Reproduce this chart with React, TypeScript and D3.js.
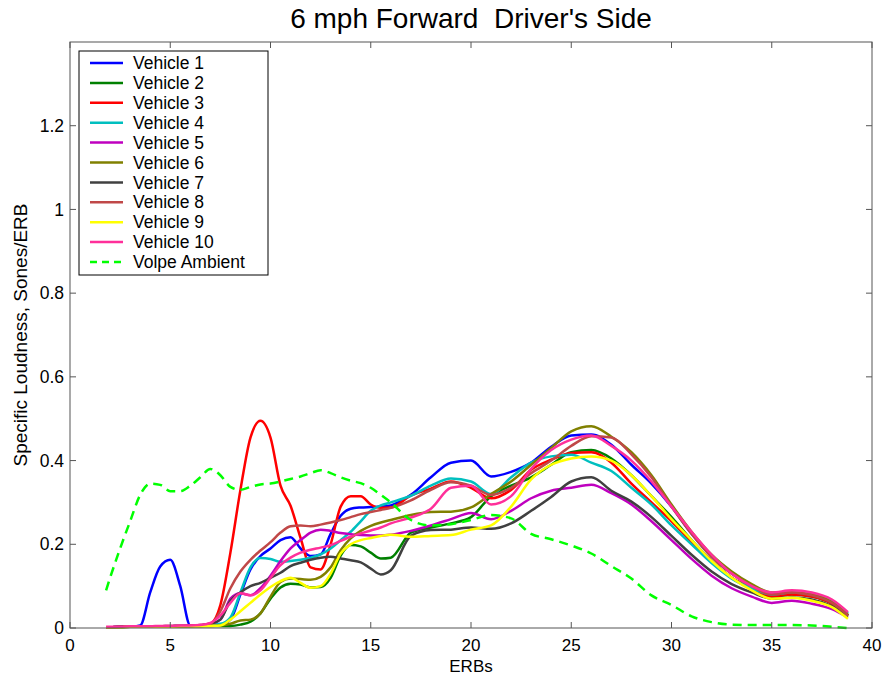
import React from 'react';
import { scaleLinear, line, curveMonotoneX } from 'd3';

const erbs = [1.8, 2, 2.5, 3, 3.5, 4, 4.5, 5, 5.5, 6, 6.5, 7, 7.5, 8, 8.5, 9, 9.5, 10, 10.5, 11, 11.5, 12, 12.5, 13, 13.5, 14, 14.5, 15, 15.5, 16,
  17, 18, 19, 20, 21, 22, 23, 24, 25, 26, 27, 28, 29, 30, 31, 32, 33, 34, 35, 36, 37, 38, 38.8];

const vehicle1 = [0.002, 0.002, 0.003, 0.003, 0.006, 0.085, 0.147, 0.163, 0.1, 0.006, 0.005, 0.007, 0.008, 0.02, 0.08, 0.14, 0.172, 0.19, 0.21, 0.217, 0.19, 0.172, 0.176, 0.225, 0.268, 0.285, 0.288, 0.289, 0.29, 0.293,
  0.318, 0.36, 0.395, 0.4, 0.362, 0.373, 0.395, 0.433, 0.46, 0.462, 0.438, 0.39, 0.345, 0.29, 0.225, 0.17, 0.13, 0.1, 0.08, 0.082, 0.078, 0.06, 0.03];
const vehicle2 = [0.002, 0.002, 0.002, 0.003, 0.003, 0.003, 0.003, 0.003, 0.003, 0.004, 0.004, 0.005, 0.005, 0.005, 0.008, 0.015, 0.035, 0.07, 0.097, 0.106, 0.104, 0.097, 0.098, 0.12, 0.173, 0.198, 0.195, 0.18, 0.166, 0.168,
  0.228, 0.24, 0.25, 0.265, 0.315, 0.34, 0.36, 0.39, 0.42, 0.425, 0.405, 0.365, 0.315, 0.265, 0.21, 0.16, 0.12, 0.095, 0.075, 0.08, 0.075, 0.058, 0.03];
const vehicle3 = [0.002, 0.002, 0.003, 0.003, 0.003, 0.004, 0.004, 0.004, 0.005, 0.005, 0.006, 0.01, 0.055, 0.18, 0.33, 0.455, 0.495, 0.455, 0.34, 0.292, 0.215, 0.145, 0.14, 0.2, 0.29, 0.315, 0.315, 0.295, 0.287, 0.288,
  0.316, 0.333, 0.35, 0.335, 0.31, 0.33, 0.378, 0.402, 0.418, 0.42, 0.395, 0.345, 0.3, 0.255, 0.205, 0.16, 0.12, 0.095, 0.075, 0.08, 0.075, 0.058, 0.03];
const vehicle4 = [0.002, 0.002, 0.003, 0.003, 0.003, 0.003, 0.004, 0.004, 0.005, 0.005, 0.006, 0.008, 0.01, 0.025, 0.085, 0.145, 0.167, 0.165, 0.158, 0.16, 0.163, 0.168, 0.176, 0.19, 0.21, 0.23, 0.255, 0.28, 0.293, 0.3,
  0.316, 0.34, 0.357, 0.35, 0.32, 0.36, 0.395, 0.41, 0.414, 0.395, 0.375, 0.335, 0.295, 0.245, 0.2, 0.155, 0.118, 0.095, 0.08, 0.085, 0.08, 0.065, 0.035];
const vehicle5 = [0.002, 0.002, 0.003, 0.003, 0.003, 0.004, 0.004, 0.005, 0.005, 0.006, 0.007, 0.01, 0.02, 0.07, 0.083, 0.078, 0.095, 0.125, 0.16, 0.19, 0.21, 0.228, 0.235, 0.232, 0.227, 0.224, 0.222, 0.221, 0.221, 0.223,
  0.232, 0.245, 0.26, 0.275, 0.26, 0.28, 0.31, 0.328, 0.335, 0.342, 0.322, 0.295, 0.255, 0.21, 0.165, 0.125, 0.095, 0.075, 0.06, 0.065, 0.058, 0.045, 0.025];
const vehicle6 = [0.002, 0.002, 0.002, 0.003, 0.003, 0.003, 0.003, 0.004, 0.004, 0.004, 0.005, 0.005, 0.006, 0.01, 0.018, 0.02, 0.035, 0.075, 0.11, 0.118, 0.117, 0.115, 0.122, 0.145, 0.186, 0.214, 0.232, 0.244, 0.252, 0.258,
  0.27, 0.277, 0.278, 0.288, 0.32, 0.35, 0.39, 0.43, 0.47, 0.482, 0.457, 0.42, 0.365, 0.295, 0.23, 0.175, 0.135, 0.105, 0.085, 0.085, 0.08, 0.062, 0.032];
const vehicle7 = [0.002, 0.002, 0.003, 0.003, 0.003, 0.004, 0.004, 0.004, 0.005, 0.005, 0.006, 0.01, 0.02, 0.065, 0.085, 0.1, 0.108, 0.12, 0.132, 0.148, 0.156, 0.163, 0.168, 0.17, 0.166, 0.162, 0.157, 0.142, 0.128, 0.138,
  0.22, 0.234, 0.235, 0.24, 0.237, 0.25, 0.28, 0.313, 0.35, 0.36, 0.328, 0.302, 0.265, 0.22, 0.175, 0.135, 0.105, 0.085, 0.07, 0.073, 0.068, 0.052, 0.028];
const vehicle8 = [0.002, 0.002, 0.003, 0.003, 0.003, 0.004, 0.004, 0.005, 0.005, 0.006, 0.007, 0.01, 0.04, 0.095, 0.135, 0.163, 0.185, 0.205, 0.228, 0.243, 0.245, 0.243, 0.247, 0.252, 0.258, 0.265, 0.272, 0.277, 0.282, 0.287,
  0.305, 0.33, 0.348, 0.34, 0.318, 0.335, 0.37, 0.4, 0.435, 0.458, 0.455, 0.415, 0.36, 0.29, 0.225, 0.17, 0.13, 0.1, 0.08, 0.085, 0.078, 0.06, 0.03];
const vehicle9 = [0.002, 0.002, 0.002, 0.003, 0.003, 0.003, 0.003, 0.003, 0.004, 0.004, 0.004, 0.005, 0.006, 0.02, 0.04, 0.06, 0.08, 0.098, 0.112, 0.12, 0.108, 0.096, 0.1, 0.13, 0.178, 0.2, 0.21, 0.215, 0.22, 0.223,
  0.218, 0.22, 0.222, 0.235, 0.245, 0.29, 0.355, 0.39, 0.405, 0.41, 0.4, 0.365, 0.315, 0.26, 0.21, 0.16, 0.12, 0.09, 0.07, 0.072, 0.065, 0.05, 0.022];
const vehicle10 = [0.003, 0.003, 0.003, 0.004, 0.004, 0.004, 0.005, 0.005, 0.006, 0.006, 0.007, 0.012, 0.03, 0.06, 0.083, 0.078, 0.09, 0.12, 0.15, 0.168, 0.18, 0.187, 0.192, 0.198, 0.208, 0.218, 0.226, 0.233, 0.24, 0.25,
  0.264, 0.285, 0.335, 0.34, 0.295, 0.315, 0.38, 0.425, 0.45, 0.46, 0.435, 0.4, 0.35, 0.29, 0.23, 0.175, 0.13, 0.1, 0.085, 0.09, 0.085, 0.068, 0.038];
const volpeAmbient = [0.09, 0.12, 0.19, 0.255, 0.318, 0.345, 0.342, 0.327, 0.327, 0.34, 0.36, 0.38, 0.365, 0.337, 0.33, 0.337, 0.343, 0.345, 0.35, 0.356, 0.362, 0.37, 0.377, 0.37, 0.36, 0.352, 0.346, 0.335, 0.318, 0.3,
  0.258, 0.245, 0.248, 0.258, 0.27, 0.262, 0.225, 0.212, 0.197, 0.178, 0.148, 0.118, 0.078, 0.055, 0.028, 0.014, 0.008, 0.007, 0.007, 0.007, 0.006, 0.003, 0];

const seriesNames = ['Vehicle 1', 'Vehicle 2', 'Vehicle 3', 'Vehicle 4', 'Vehicle 5', 'Vehicle 6', 'Vehicle 7', 'Vehicle 8', 'Vehicle 9', 'Vehicle 10', 'Volpe Ambient'];
const seriesValues = [vehicle1, vehicle2, vehicle3, vehicle4, vehicle5, vehicle6, vehicle7, vehicle8, vehicle9, vehicle10, volpeAmbient];
const seriesColors = ['#0000ff', '#008000', '#ff0000', '#00bfbf', '#bf00bf', '#808000', '#404040', '#c04848', '#ffff00', '#ff2f9a', '#00ff00'];

const xTicks = [0, 5, 10, 15, 20, 25, 30, 35, 40];
const yTicks = [0, 0.2, 0.4, 0.6, 0.8, 1, 1.2];

const width = 888;
const height = 681;
const margin = { top: 42, right: 16, bottom: 53, left: 70 };
const font = 'Arial, "Liberation Sans", Helvetica, sans-serif';

const App = () => {
  const innerW = width - margin.left - margin.right;
  const innerH = height - margin.top - margin.bottom;

  const xScale = scaleLinear().domain([0, 40]).range([0, innerW]);
  const yScale = scaleLinear().domain([0, 1.4]).range([innerH, 0]);

  const lineGen = line<number>()
    .x((d, i) => xScale(erbs[i]))
    .y(d => yScale(d))
    .curve(curveMonotoneX);

  const axisColor = '#555';
  const tickLen = 6;

  return (
    <svg width={width} height={height} style={{ position: 'absolute', left: 0, top: 0, background: '#fff' }}
      fontFamily={font}>
      <rect x={0} y={0} width={width} height={height} fill="#fff" />
      <text x={margin.left + innerW / 2} y={28} textAnchor="middle" fontSize={28}
        style={{ whiteSpace: 'pre' }}>6 mph Forward  Driver's Side</text>
      <g transform={`translate(${margin.left}, ${margin.top})`}>
        {seriesValues.map((vals, i) => (
          <path key={seriesNames[i]} d={lineGen(vals) || ''} fill="none" stroke={seriesColors[i]}
            strokeWidth={2.5} strokeLinejoin="round"
            strokeDasharray={i === 10 ? '9,6' : undefined} />
        ))}

        <rect x={0} y={0} width={innerW} height={innerH} fill="none" stroke={axisColor} strokeWidth={1} />
        {xTicks.map(t => (
          <g key={'x' + t} transform={`translate(${xScale(t)}, 0)`}>
            <line y1={innerH} y2={innerH - tickLen} stroke={axisColor} />
            <line y1={0} y2={tickLen} stroke={axisColor} />
            <text y={innerH + 23} textAnchor="middle" fontSize={17}>{t}</text>
          </g>
        ))}
        {yTicks.map(t => (
          <g key={'y' + t} transform={`translate(0, ${yScale(t)})`}>
            <line x1={0} x2={tickLen} stroke={axisColor} />
            <line x1={innerW} x2={innerW - tickLen} stroke={axisColor} />
            <text x={-6} dy="0.35em" textAnchor="end" fontSize={17.5}>{t}</text>
          </g>
        ))}
        <text x={innerW / 2} y={innerH + 44} textAnchor="middle" fontSize={17}>ERBs</text>
        <text transform={`translate(${-43}, ${innerH / 2}) rotate(-90)`} textAnchor="middle" fontSize={19}>Specific Loudness, Sones/ERB</text>

        <g transform="translate(9, 9)">
          <rect x={0} y={0} width={189} height={224} fill="#fff" stroke="#000" strokeWidth={1} />
          {seriesNames.map((name, i) => (
            <g key={'l' + name} transform={`translate(0, ${12 + i * 19.9})`}>
              <line x1={11} x2={44} stroke={seriesColors[i]} strokeWidth={2.5}
                strokeDasharray={i === 10 ? '7,5' : undefined} />
              <text x={54} dy="0.35em" fontSize={17.5}>{name}</text>
            </g>
          ))}
        </g>
      </g>
    </svg>
  );
};

export default App;
